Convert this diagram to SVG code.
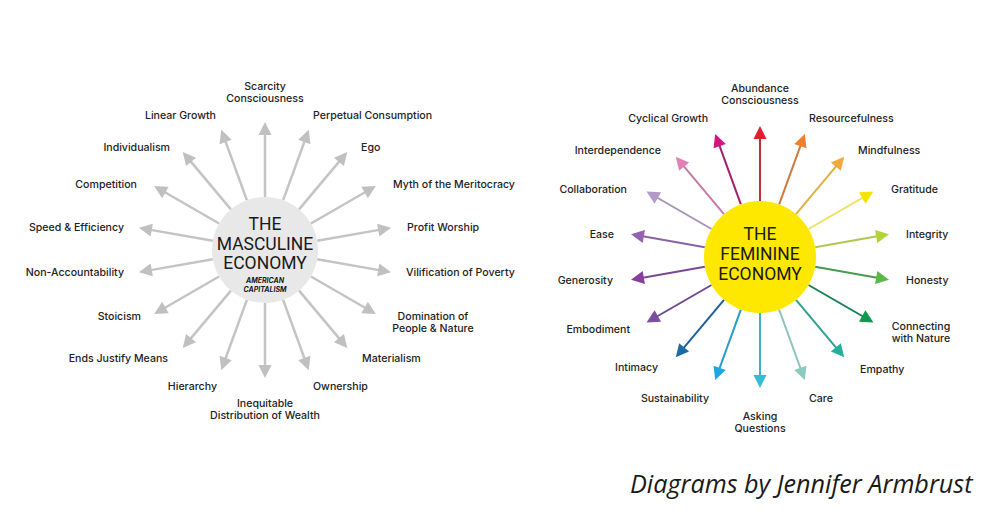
<svg xmlns="http://www.w3.org/2000/svg" xmlns:xlink="http://www.w3.org/1999/xlink" width="1000" height="523" viewBox="0 0 1000 523">
<style>
.lbl{font-family:Inter,"Liberation Sans",sans-serif;font-size:10.6px;font-weight:500;fill:#222}
.e{text-anchor:end}.s{text-anchor:start}.m{text-anchor:middle}
.ttl{font-family:Roboto,"Liberation Sans",sans-serif;font-size:17.5px;font-weight:400;fill:#1a1a1a;text-anchor:middle}
.sub{font-family:Inter,"Liberation Sans",sans-serif;font-size:7px;font-weight:700;font-style:italic;fill:#1a1a1a;text-anchor:middle}
.gl line{stroke:#c4c4c4;stroke-width:2.5}
.gl use{fill:#c0c0c0}
.cl line{stroke-width:2}
.credit{font-family:"Open Sans",sans-serif;font-style:italic;font-size:25.2px;fill:#1a1a1a}
</style>
<defs>
<path id="ah" d="M0,0 L6.5,13 L-6.5,13 Z"/>
</defs>
<rect width="1000" height="523" fill="#fff"/>
<g id="connectors">
<g id="left-arrows" class="gl">
<g transform="rotate(0 265 250)"><line x1="265" y1="197" x2="265" y2="134"/><use xlink:href="#ah" x="265" y="122"/></g>
<g transform="rotate(20 265 250)"><line x1="265" y1="197" x2="265" y2="134"/><use xlink:href="#ah" x="265" y="122"/></g>
<g transform="rotate(40 265 250)"><line x1="265" y1="197" x2="265" y2="134"/><use xlink:href="#ah" x="265" y="122"/></g>
<g transform="rotate(60 265 250)"><line x1="265" y1="197" x2="265" y2="134"/><use xlink:href="#ah" x="265" y="122"/></g>
<g transform="rotate(80 265 250)"><line x1="265" y1="197" x2="265" y2="134"/><use xlink:href="#ah" x="265" y="122"/></g>
<g transform="rotate(100 265 250)"><line x1="265" y1="197" x2="265" y2="134"/><use xlink:href="#ah" x="265" y="122"/></g>
<g transform="rotate(120 265 250)"><line x1="265" y1="197" x2="265" y2="134"/><use xlink:href="#ah" x="265" y="122"/></g>
<g transform="rotate(140 265 250)"><line x1="265" y1="197" x2="265" y2="134"/><use xlink:href="#ah" x="265" y="122"/></g>
<g transform="rotate(160 265 250)"><line x1="265" y1="197" x2="265" y2="134"/><use xlink:href="#ah" x="265" y="122"/></g>
<g transform="rotate(180 265 250)"><line x1="265" y1="197" x2="265" y2="134"/><use xlink:href="#ah" x="265" y="122"/></g>
<g transform="rotate(200 265 250)"><line x1="265" y1="197" x2="265" y2="134"/><use xlink:href="#ah" x="265" y="122"/></g>
<g transform="rotate(220 265 250)"><line x1="265" y1="197" x2="265" y2="134"/><use xlink:href="#ah" x="265" y="122"/></g>
<g transform="rotate(240 265 250)"><line x1="265" y1="197" x2="265" y2="134"/><use xlink:href="#ah" x="265" y="122"/></g>
<g transform="rotate(260 265 250)"><line x1="265" y1="197" x2="265" y2="134"/><use xlink:href="#ah" x="265" y="122"/></g>
<g transform="rotate(280 265 250)"><line x1="265" y1="197" x2="265" y2="134"/><use xlink:href="#ah" x="265" y="122"/></g>
<g transform="rotate(300 265 250)"><line x1="265" y1="197" x2="265" y2="134"/><use xlink:href="#ah" x="265" y="122"/></g>
<g transform="rotate(320 265 250)"><line x1="265" y1="197" x2="265" y2="134"/><use xlink:href="#ah" x="265" y="122"/></g>
<g transform="rotate(340 265 250)"><line x1="265" y1="197" x2="265" y2="134"/><use xlink:href="#ah" x="265" y="122"/></g>
</g>
<g id="right-arrows" class="cl">
<g transform="rotate(0 760 257)"><line x1="760" y1="201" x2="760" y2="138" stroke="#c0303a"/><use xlink:href="#ah" x="760" y="126" fill="#e31e2d"/></g>
<g transform="rotate(20 760 257)"><line x1="760" y1="201" x2="760" y2="138" stroke="#d07a3a"/><use xlink:href="#ah" x="760" y="126" fill="#f07f2e"/></g>
<g transform="rotate(40 760 257)"><line x1="760" y1="201" x2="760" y2="138" stroke="#e0b040"/><use xlink:href="#ah" x="760" y="126" fill="#f3a93a"/></g>
<g transform="rotate(60 760 257)"><line x1="760" y1="201" x2="760" y2="138" stroke="#eee060"/><use xlink:href="#ah" x="760" y="126" fill="#f6e400"/></g>
<g transform="rotate(80 760 257)"><line x1="760" y1="201" x2="760" y2="138" stroke="#b0c850"/><use xlink:href="#ah" x="760" y="126" fill="#b4d335"/></g>
<g transform="rotate(100 760 257)"><line x1="760" y1="201" x2="760" y2="138" stroke="#4a9a50"/><use xlink:href="#ah" x="760" y="126" fill="#5cb848"/></g>
<g transform="rotate(120 760 257)"><line x1="760" y1="201" x2="760" y2="138" stroke="#1a8050"/><use xlink:href="#ah" x="760" y="126" fill="#0f9a4f"/></g>
<g transform="rotate(140 760 257)"><line x1="760" y1="201" x2="760" y2="138" stroke="#30a090"/><use xlink:href="#ah" x="760" y="126" fill="#26b09b"/></g>
<g transform="rotate(160 760 257)"><line x1="760" y1="201" x2="760" y2="138" stroke="#90c4bc"/><use xlink:href="#ah" x="760" y="126" fill="#8ccabf"/></g>
<g transform="rotate(180 760 257)"><line x1="760" y1="201" x2="760" y2="138" stroke="#40b0c8"/><use xlink:href="#ah" x="760" y="126" fill="#36bdd6"/></g>
<g transform="rotate(200 760 257)"><line x1="760" y1="201" x2="760" y2="138" stroke="#2a9cc8"/><use xlink:href="#ah" x="760" y="126" fill="#1ba8e2"/></g>
<g transform="rotate(220 760 257)"><line x1="760" y1="201" x2="760" y2="138" stroke="#20609a"/><use xlink:href="#ah" x="760" y="126" fill="#1d6ca6"/></g>
<g transform="rotate(240 760 257)"><line x1="760" y1="201" x2="760" y2="138" stroke="#6a4a90"/><use xlink:href="#ah" x="760" y="126" fill="#7b4ea0"/></g>
<g transform="rotate(260 760 257)"><line x1="760" y1="201" x2="760" y2="138" stroke="#7a4a96"/><use xlink:href="#ah" x="760" y="126" fill="#85409c"/></g>
<g transform="rotate(280 760 257)"><line x1="760" y1="201" x2="760" y2="138" stroke="#8a62a6"/><use xlink:href="#ah" x="760" y="126" fill="#9462ae"/></g>
<g transform="rotate(300 760 257)"><line x1="760" y1="201" x2="760" y2="138" stroke="#a894ba"/><use xlink:href="#ah" x="760" y="126" fill="#b29ac8"/></g>
<g transform="rotate(320 760 257)"><line x1="760" y1="201" x2="760" y2="138" stroke="#c87aa6"/><use xlink:href="#ah" x="760" y="126" fill="#e47fb3"/></g>
<g transform="rotate(340 760 257)"><line x1="760" y1="201" x2="760" y2="138" stroke="#a0206e"/><use xlink:href="#ah" x="760" y="126" fill="#d6147f"/></g>
</g>
</g>
<g id="masculine-economy">
<circle cx="265" cy="250" r="53" fill="#e8e8e8"/>
<text class="ttl" x="265" y="229.5">THE</text>
<text class="ttl" x="265" y="249.5">MASCULINE</text>
<text class="ttl" x="265" y="268.5">ECONOMY</text>
<text class="sub" x="265" y="282.5">AMERICAN</text>
<text class="sub" x="265" y="291.5">CAPITALISM</text>
</g>
<g id="feminine-economy">
<circle cx="760" cy="257" r="56" fill="#ffe800"/>
<text class="ttl" x="760" y="239.5">THE</text>
<text class="ttl" x="760" y="259.5">FEMININE</text>
<text class="ttl" x="760" y="279.5">ECONOMY</text>
</g>
<g id="left-labels" class="lbl">
<g id="l-scarcity"><text class="m" x="265" y="90">Scarcity</text><text class="m" x="265" y="102">Consciousness</text></g>
<g id="l-linear"><text class="e" x="216" y="119">Linear Growth</text></g>
<g id="l-perpetual"><text class="s" x="313" y="119">Perpetual Consumption</text></g>
<g id="l-individualism"><text class="e" x="170" y="151">Individualism</text></g>
<g id="l-ego"><text class="s" x="361" y="151">Ego</text></g>
<g id="l-competition"><text class="e" x="137" y="188">Competition</text></g>
<g id="l-myth"><text class="s" x="393" y="188">Myth of the Meritocracy</text></g>
<g id="l-speed"><text class="e" x="124" y="231">Speed &amp; Efficiency</text></g>
<g id="l-profit"><text class="s" x="407" y="231">Profit Worship</text></g>
<g id="l-nonacc"><text class="e" x="124" y="276">Non-Accountability</text></g>
<g id="l-vilification"><text class="s" x="406" y="276">Vilification of Poverty</text></g>
<g id="l-stoicism"><text class="e" x="141" y="320">Stoicism</text></g>
<g id="l-domination"><text class="m" x="433" y="320">Domination of</text><text class="m" x="433" y="332">People &amp; Nature</text></g>
<g id="l-ends"><text class="e" x="168" y="362">Ends Justify Means</text></g>
<g id="l-materialism"><text class="s" x="362" y="362">Materialism</text></g>
<g id="l-hierarchy"><text class="e" x="217" y="390">Hierarchy</text></g>
<g id="l-ownership"><text class="s" x="313" y="390">Ownership</text></g>
<g id="l-inequitable"><text class="m" x="265" y="407">Inequitable</text><text class="m" x="265" y="419">Distribution of Wealth</text></g>
</g>
<g id="right-labels" class="lbl">
<g id="r-abundance"><text class="m" x="760" y="92">Abundance</text><text class="m" x="760" y="104">Consciousness</text></g>
<g id="r-cyclical"><text class="e" x="708" y="122">Cyclical Growth</text></g>
<g id="r-resourcefulness"><text class="s" x="809" y="122">Resourcefulness</text></g>
<g id="r-interdependence"><text class="e" x="661" y="154">Interdependence</text></g>
<g id="r-mindfulness"><text class="s" x="858" y="154">Mindfulness</text></g>
<g id="r-collaboration"><text class="e" x="627" y="193">Collaboration</text></g>
<g id="r-gratitude"><text class="s" x="891" y="193">Gratitude</text></g>
<g id="r-ease"><text class="e" x="614" y="238">Ease</text></g>
<g id="r-integrity"><text class="s" x="906" y="238">Integrity</text></g>
<g id="r-generosity"><text class="e" x="613" y="284">Generosity</text></g>
<g id="r-honesty"><text class="s" x="906" y="284">Honesty</text></g>
<g id="r-embodiment"><text class="e" x="630" y="333">Embodiment</text></g>
<g id="r-connecting"><text class="m" x="921" y="330">Connecting</text><text class="m" x="921" y="342">with Nature</text></g>
<g id="r-intimacy"><text class="e" x="658" y="371">Intimacy</text></g>
<g id="r-empathy"><text class="s" x="860" y="373">Empathy</text></g>
<g id="r-sustainability"><text class="e" x="709" y="402">Sustainability</text></g>
<g id="r-care"><text class="s" x="809" y="402">Care</text></g>
<g id="r-asking"><text class="m" x="760" y="420">Asking</text><text class="m" x="760" y="432">Questions</text></g>
</g>
<text class="credit" x="630" y="493">Diagrams by Jennifer Armbrust</text>
</svg>
